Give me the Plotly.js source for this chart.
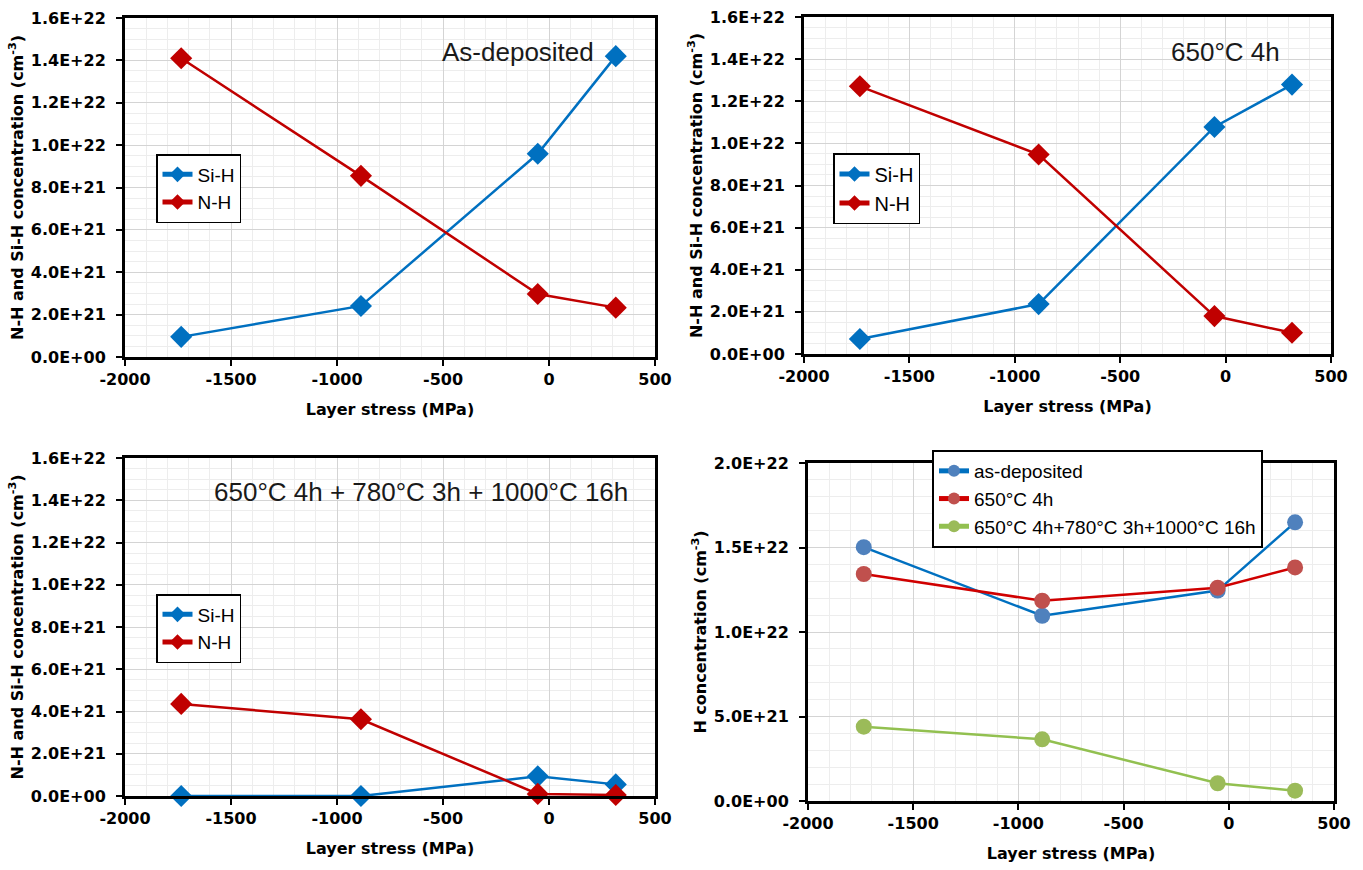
<!DOCTYPE html>
<html>
<head>
<meta charset="utf-8">
<script src="https://cdn.plot.ly/plotly-3.0.1.min.js"></script>
<style>html,body{margin:0;padding:0;background:#fff;}#chart{width:1363px;height:870px;}</style>
</head>
<body>
<div id="chart"></div>
<script>
// Layer stress (MPa) of the four samples
const stress = [-1735, -887, -53, 315];

// Panel 1: as-deposited
const asdepSiH = [0.95e21, 2.41e21, 9.59e21, 1.42e22];
const asdepNH  = [1.41e22, 8.55e21, 2.97e21, 2.33e21];
// Panel 2: 650°C 4h
const a650SiH = [0.71e21, 2.37e21, 1.078e22, 1.279e22];
const a650NH  = [1.271e22, 9.47e21, 1.80e21, 1.01e21];
// Panel 3: 650°C 4h + 780°C 3h + 1000°C 16h
const a1000SiH = [0, 0, 0.93e21, 0.55e21];
const a1000NH  = [4.36e21, 3.63e21, 0.10e21, 0.05e21];
// Panel 4: total H concentration
const hAsdep = [1.502e22, 1.096e22, 1.245e22, 1.649e22];
const h650   = [1.343e22, 1.185e22, 1.262e22, 1.382e22];
const h1000  = [4.40e21, 3.65e21, 1.05e21, 0.61e21];

// Tick labels
const xTicks = [-2000, -1500, -1000, -500, 0, 500];
const yTicksA = [0, 2e21, 4e21, 6e21, 8e21, 1e22, 1.2e22, 1.4e22, 1.6e22];
const yTextA = ['0.0E+00','2.0E+21','4.0E+21','6.0E+21','8.0E+21','1.0E+22','1.2E+22','1.4E+22','1.6E+22'];
const yTicksB = [0, 5e21, 1e22, 1.5e22, 2e22];
const yTextB = ['0.0E+00','5.0E+21','1.0E+22','1.5E+22','2.0E+22'];

const names = ['Si-H', 'N-H'];
const seriesNames = ['as-deposited', '650°C 4h', '650°C 4h+780°C 3h+1000°C 16h'];
const annText = ['As-deposited', '650°C 4h', '650°C 4h + 780°C 3h + 1000°C 16h'];

const BLUE = '#0070C0', RED = '#C00000';
const W = 1363, H = 870;
const px = v => v / W, py = v => 1 - v / H;

function diamondTrace(y, name, color, ax, leg) {
  return {
    x: stress, y: y, name: name, type: 'scatter', mode: 'lines+markers',
    xaxis: 'x' + ax, yaxis: 'y' + ax, legend: leg, cliponaxis: false,
    line: {color: color, width: 2.5},
    marker: {symbol: 'diamond', size: 17, color: color},
    hoverinfo: 'skip'
  };
}
function circleTrace(y, name, lineColor, markColor, leg) {
  return {
    x: stress, y: y, name: name, type: 'scatter', mode: 'lines+markers',
    xaxis: 'x4', yaxis: 'y4', legend: leg, cliponaxis: false,
    line: {color: lineColor, width: 2.5},
    marker: {symbol: 'circle', size: 16, color: markColor},
    hoverinfo: 'skip'
  };
}

const data = [
  diamondTrace(asdepSiH, names[0], BLUE, '', 'legend'),
  diamondTrace(asdepNH, names[1], RED, '', 'legend'),
  diamondTrace(a650SiH, names[0], BLUE, '2', 'legend2'),
  diamondTrace(a650NH, names[1], RED, '2', 'legend2'),
  diamondTrace(a1000SiH, names[0], BLUE, '3', 'legend3'),
  diamondTrace(a1000NH, names[1], RED, '3', 'legend3'),
  circleTrace(hAsdep, seriesNames[0], '#0070C0', '#4F81BD', 'legend4'),
  circleTrace(h650, seriesNames[1], '#D00000', '#C0504D', 'legend4'),
  circleTrace(h1000, seriesNames[2], '#92C050', '#9BBB59', 'legend4')
];

const FONT = 'Liberation Sans, Arial, sans-serif';
const BOLDFONT = 'DejaVu Sans, Liberation Sans, sans-serif';
const tickFont = {family: BOLDFONT, size: 16, color: '#000', weight: 'bold'};
const titleFont = {family: BOLDFONT, size: 16, color: '#000', weight: 'bold'};

function xAxis(domain, anchor) {
  return {
    domain: domain, anchor: anchor, range: [-2000, 500],
    tickvals: xTicks, ticktext: xTicks.map(String),
    ticks: 'outside', ticklen: 6, tickwidth: 2, tickcolor: '#000',
    showline: true, linecolor: '#000', linewidth: 3, mirror: true,
    showgrid: true, gridcolor: '#D4D4D4', gridwidth: 1,
    minor: {dtick: 100, tick0: -2000, showgrid: true, gridcolor: '#EDEDED', gridwidth: 1},
    zeroline: false, tickfont: tickFont,
    title: {text: 'Layer stress (MPa)', font: titleFont, standoff: 16}
  };
}
function yAxis(domain, anchor, vals, text, maxv, minorDt, title) {
  return {
    domain: domain, anchor: anchor, range: [0, maxv],
    tickvals: vals, ticktext: text,
    ticks: 'outside', ticklen: 6, tickwidth: 2, tickcolor: '#000',
    ticklabelstandoff: 7,
    showline: true, linecolor: '#000', linewidth: 3, mirror: true,
    showgrid: true, gridcolor: '#D4D4D4', gridwidth: 1,
    minor: {dtick: minorDt, tick0: 0, showgrid: true, gridcolor: '#EDEDED', gridwidth: 1},
    zeroline: false, tickfont: tickFont,
    title: {text: title, font: titleFont, standoff: 4}
  };
}
const yTitleA = 'N-H and Si-H concentration (cm<sup>-3</sup>)';
const yTitleB = 'H concentration (cm<sup>-3</sup>)';

function leg(x, y, size) {
  return {x: px(x), y: py(y), xanchor: 'left', yanchor: 'top',
    bgcolor: '#fff', bordercolor: '#000', borderwidth: 1.5,
    font: {family: FONT, size: size, color: '#000'}, itemsizing: 'constant', tracegroupgap: 0};
}

const annFont = {family: FONT, size: 26, color: '#1a1a1a'};
const layout = {
  width: W, height: H,
  margin: {l: 0, r: 0, t: 0, b: 0},
  paper_bgcolor: '#fff', plot_bgcolor: '#fff',
  showlegend: true,
  xaxis: xAxis([px(125), px(655)], 'y'),
  yaxis: yAxis([py(357), py(18)], 'x', yTicksA, yTextA, 1.6e22, 5e20, yTitleA),
  xaxis2: xAxis([px(804), px(1331)], 'y2'),
  yaxis2: yAxis([py(354), py(17)], 'x2', yTicksA, yTextA, 1.6e22, 5e20, yTitleA),
  xaxis3: xAxis([px(125), px(655)], 'y3'),
  yaxis3: yAxis([py(796), py(458)], 'x3', yTicksA, yTextA, 1.6e22, 5e20, yTitleA),
  xaxis4: xAxis([px(808), px(1334)], 'y4'),
  yaxis4: yAxis([py(801), py(463)], 'x4', yTicksB, yTextB, 2e22, 1e21, yTitleB),
  legend: leg(156, 154, 19),
  legend2: leg(833, 153, 20),
  legend3: leg(156, 594, 19),
  legend4: Object.assign(leg(932, 450, 19), {borderwidth: 2}),
  annotations: [
    {text: annText[0], xref: 'paper', yref: 'paper', x: px(518), y: py(52), xanchor: 'center', yanchor: 'middle', showarrow: false, font: annFont},
    {text: annText[1], xref: 'paper', yref: 'paper', x: px(1225), y: py(52), xanchor: 'center', yanchor: 'middle', showarrow: false, font: annFont},
    {text: annText[2], xref: 'paper', yref: 'paper', x: px(421), y: py(492), xanchor: 'center', yanchor: 'middle', showarrow: false, font: annFont}
  ]
};

Plotly.newPlot('chart', data, layout, {displayModeBar: false, staticPlot: true});
</script>
</body>
</html>
